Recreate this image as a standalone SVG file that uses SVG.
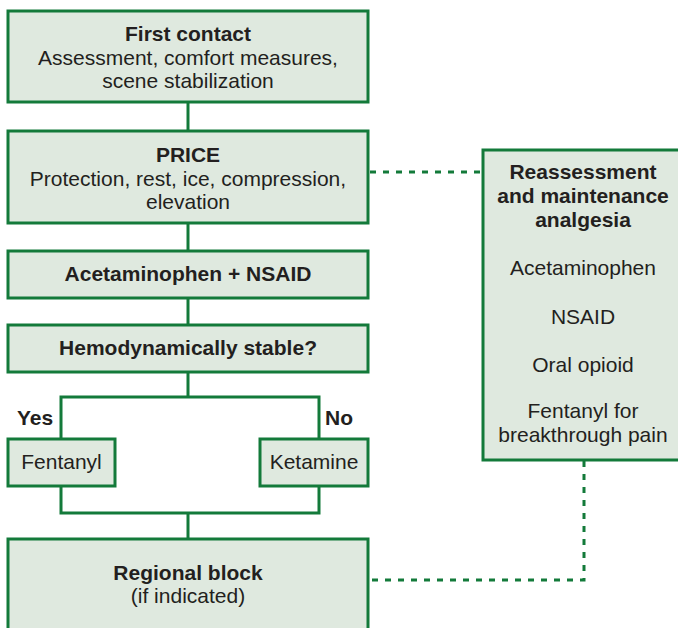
<svg xmlns="http://www.w3.org/2000/svg" width="678" height="628" viewBox="0 0 678 628">
  <style>
    .box { fill: #dfe9df; stroke: #137a3a; stroke-width: 3; }
    .line { fill: none; stroke: #137a3a; stroke-width: 3; }
    .dash { fill: none; stroke: #137a3a; stroke-width: 3; stroke-dasharray: 6 7; }
    text { font-family: "Liberation Sans", Arial, sans-serif; font-size: 21px; fill: #231f20; text-anchor: middle; }
    .b { font-weight: bold; }
  </style>
  <rect width="678" height="628" fill="#ffffff"/>

  <g id="connectors">
    <path class="line" d="M188 102 V131"/>
    <path class="line" d="M188 223 V251"/>
    <path class="line" d="M188 298 V325"/>
    <path class="line" d="M188 372 V397 M61 439 V397 H319 V439"/>
    <path class="line" d="M61 486 V513 H319 V486 M188 513 V539"/>
    <path class="dash" d="M370 172 H482"/>
    <path class="dash" d="M584 461 V580 H370"/>
  </g>

  <g id="first-contact">
    <rect class="box" x="8" y="11" width="360" height="91"/>
    <text x="188" y="41" class="b">First contact</text>
    <text x="188" y="65">Assessment, comfort measures,</text>
    <text x="188" y="88">scene stabilization</text>
  </g>

  <g id="price">
    <rect class="box" x="8" y="131" width="360" height="92"/>
    <text x="188" y="162" class="b">PRICE</text>
    <text x="188" y="186">Protection, rest, ice, compression,</text>
    <text x="188" y="209">elevation</text>
  </g>

  <g id="acetaminophen-nsaid">
    <rect class="box" x="8" y="251" width="360" height="47"/>
    <text x="188" y="281" class="b">Acetaminophen + NSAID</text>
  </g>

  <g id="hemodynamic">
    <rect class="box" x="8" y="325" width="360" height="47"/>
    <text x="188" y="355" class="b">Hemodynamically stable?</text>
  </g>

  <g id="branch-labels">
    <text x="35" y="425" class="b">Yes</text>
    <text x="339" y="425" class="b">No</text>
  </g>

  <g id="fentanyl">
    <rect class="box" x="8" y="439" width="107" height="47"/>
    <text x="61.5" y="469">Fentanyl</text>
  </g>

  <g id="ketamine">
    <rect class="box" x="260" y="439" width="108" height="47"/>
    <text x="314" y="469">Ketamine</text>
  </g>

  <g id="regional-block">
    <rect class="box" x="8" y="539" width="360" height="100"/>
    <text x="188" y="580" class="b">Regional block</text>
    <text x="188" y="603">(if indicated)</text>
  </g>

  <g id="reassessment">
    <rect class="box" x="483" y="150" width="200" height="310"/>
    <text x="583" y="179" class="b">Reassessment</text>
    <text x="583" y="203" class="b">and maintenance</text>
    <text x="583" y="227" class="b">analgesia</text>
    <text x="583" y="275">Acetaminophen</text>
    <text x="583" y="324">NSAID</text>
    <text x="583" y="372">Oral opioid</text>
    <text x="583" y="418">Fentanyl for</text>
    <text x="583" y="442">breakthrough pain</text>
  </g>
</svg>
